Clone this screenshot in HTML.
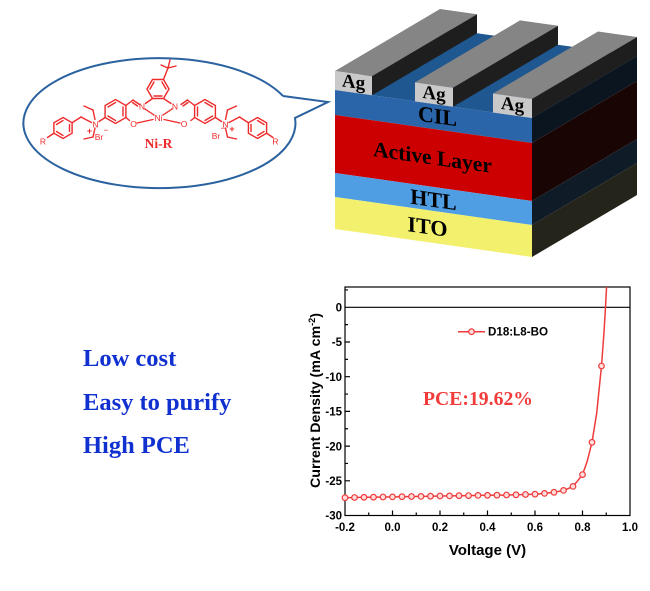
<!DOCTYPE html>
<html>
<head>
<meta charset="utf-8">
<style>
html,body{margin:0;padding:0;background:#fff;}
svg{display:block;}
</style>
</head>
<body>
<svg width="650" height="591" viewBox="0 0 650 591" xmlns="http://www.w3.org/2000/svg">
<rect width="650" height="591" fill="#fff"/>

<!-- ===== Device block ===== -->
<g>
  <polygon points="335,90 532,118 637,56 440,28" fill="#1f5790"/>
  <polygon points="335,90 532,118 532,143 335,115" fill="#2a65a9"/>
  <polygon points="335,115 532,143 532,201 335,173" fill="#cc0000"/>
  <polygon points="335,173 532,201 532,225 335,197" fill="#4f9de2"/>
  <polygon points="335,197 532,225 532,257 335,229" fill="#f2f06c"/>
  <polygon points="532,118 637,56 637,81 532,143" fill="#0b1520"/>
  <polygon points="532,143 637,81 637,139 532,201" fill="#1a0505"/>
  <polygon points="532,201 637,139 637,163 532,225" fill="#0f1b26"/>
  <polygon points="532,225 637,163 637,195 532,257" fill="#25241a"/>

  <polygon points="335,71 372,76.26 477,14.26 440,9" fill="#858585"/>
  <polygon points="372,76.26 477,14.26 477,33.26 372,95.26" fill="#1e1e1e"/>
  <polygon points="335,71 372,76.26 372,95.26 335,90" fill="#c9c9c9"/>

  <polygon points="415,82.37 453,87.77 558,25.77 520,20.37" fill="#858585"/>
  <polygon points="453,87.77 558,25.77 558,44.77 453,106.77" fill="#1e1e1e"/>
  <polygon points="415,82.37 453,87.77 453,106.77 415,101.37" fill="#c9c9c9"/>

  <polygon points="493,93.45 532,99 637,37 598,31.45" fill="#858585"/>
  <polygon points="532,99 637,37 637,56 532,118" fill="#1e1e1e"/>
  <polygon points="493,93.45 532,99 532,118 493,112.45" fill="#c9c9c9"/>

  <g font-family="'Liberation Serif', serif" font-weight="bold" fill="#000" text-anchor="middle" dominant-baseline="central">
    <text x="0" y="0" font-size="19" transform="translate(353.5 82.5) skewY(8.1)">Ag</text>
    <text x="0" y="0" font-size="19" transform="translate(434 94) skewY(8.1)">Ag</text>
    <text x="0" y="0" font-size="19" transform="translate(512.5 105) skewY(8.1)">Ag</text>
    <text x="0" y="0" font-size="22" transform="translate(437.5 116) skewY(8.1)">CIL</text>
    <text x="0" y="0" font-size="21.5" transform="translate(432.5 157.5) skewY(8.1)">Active Layer</text>
    <text x="0" y="0" font-size="22" transform="translate(433.5 199.5) skewY(8.1)">HTL</text>
    <text x="0" y="0" font-size="22" transform="translate(427.5 226.5) skewY(8.1)">ITO</text>
  </g>
</g>

<!-- ===== Speech bubble ===== -->
<path d="M 283 96 L 328 102 L 295 118 A 136 65 0 1 1 283 96" fill="#fff" stroke="#2a62a0" stroke-width="2" stroke-linejoin="miter"/>

<!-- ===== Molecule ===== -->
<g stroke="#ee2a2a" stroke-width="1.4" fill="none" stroke-linecap="round">
  <polygon points="169,89 163.5,98.5 152.5,98.5 147,89 152.5,79.5 163.5,79.5"/>
  <line x1="150" y1="89" x2="154" y2="82"/>
  <line x1="154" y1="96" x2="162" y2="96"/>
  <line x1="166" y1="89" x2="162" y2="82"/>
  <line x1="163.5" y1="79.5" x2="168" y2="68"/>
  <line x1="168" y1="68" x2="161" y2="65"/>
  <line x1="168" y1="68" x2="176" y2="66"/>
  <line x1="168" y1="68" x2="170" y2="60"/>
  <line x1="152.5" y1="98.5" x2="145.5" y2="103.5"/>
  <line x1="163.5" y1="98.5" x2="171" y2="103.5"/>
  <line x1="145" y1="109" x2="154" y2="115" stroke-dasharray="1.2 1.3"/>
  <line x1="172" y1="109" x2="163" y2="115" stroke-dasharray="1.2 1.3"/>
  <line x1="137" y1="123" x2="153" y2="119.5"/>
  <line x1="164" y1="119.5" x2="180" y2="123"/>

  <g id="half">
    <polygon points="115.5,99.5 125.9,105.5 125.9,117.5 115.5,123.5 105.1,117.5 105.1,105.5"/>
    <line x1="108" y1="107" x2="115.5" y2="102.5"/>
    <line x1="108" y1="116" x2="115.5" y2="120.5"/>
    <line x1="123" y1="107" x2="123" y2="116"/>
    <line x1="125.9" y1="105.5" x2="133" y2="100"/>
    <line x1="133" y1="100" x2="139.5" y2="104.5"/>
    <line x1="132.5" y1="102.5" x2="137.5" y2="106"/>
    <line x1="125.9" y1="117.5" x2="129.5" y2="120.5"/>
    <line x1="105.1" y1="117.5" x2="99" y2="121.5"/>
    <line x1="95" y1="119.5" x2="93" y2="110"/>
    <line x1="93" y1="110" x2="84" y2="106"/>
    <line x1="95" y1="128" x2="93" y2="137"/>
    <line x1="93" y1="137" x2="84" y2="139"/>
    <line x1="91.5" y1="122.5" x2="81" y2="117"/>
    <line x1="81" y1="117" x2="72.1" y2="122.75"/>
    <polygon points="63,117.5 72.1,122.75 72.1,133.25 63,138.5 53.9,133.25 53.9,122.75"/>
    <line x1="56.5" y1="124.5" x2="63" y2="120.5"/>
    <line x1="56.5" y1="131.5" x2="63" y2="135.5"/>
    <line x1="69.5" y1="124.5" x2="69.5" y2="131.5"/>
    <line x1="53.9" y1="133.25" x2="47.5" y2="137.5"/>
  </g>
  <use href="#half" transform="translate(320.5,0) scale(-1,1)"/>
</g>
<g font-family="'Liberation Sans', sans-serif" fill="#ee2a2a" font-size="8.5" text-anchor="middle">
  <text x="142" y="109.5">N</text>
  <text x="175" y="109.5">N</text>
  <text x="158.5" y="121">Ni</text>
  <text x="133.5" y="127">O</text>
  <text x="184" y="127">O</text>
  <text x="95.5" y="127.5">N</text>
  <text x="225.5" y="127.5">N</text>
  <text x="89.5" y="134" font-size="9" font-weight="bold">+</text>
  <text x="232" y="132" font-size="9" font-weight="bold">+</text>
  <text x="99" y="140">Br</text>
  <text x="106" y="133">−</text>
  <text x="216" y="139">Br</text>
  <text x="223" y="131">−</text>
  <text x="43" y="144.5">R</text>
  <text x="275.5" y="144.5">R</text>
  <text x="158.5" y="148" font-family="'Liberation Serif', serif" font-weight="bold" font-size="13.5">Ni-R</text>
</g>

<!-- ===== Blue bullet text ===== -->
<g font-family="'Liberation Serif', serif" font-weight="bold" font-size="24.5" fill="#1030d0">
  <text x="83" y="366">Low cost</text>
  <text x="83" y="410">Easy to purify</text>
  <text x="83" y="453">High PCE</text>
</g>

<!-- ===== Chart ===== -->
<defs>
  <clipPath id="plot"><rect x="345" y="287" width="285" height="228.5"/></clipPath>
</defs>
<g stroke="#000" stroke-width="1.2" fill="none">
  <rect x="345" y="287" width="285" height="228.5"/>
  <line x1="345" y1="307.3" x2="630" y2="307.3"/>
  <path d="M345 342H350 M345 376.7H350 M345 411.4H350 M345 446.1H350 M345 480.8H350"/>
  <path d="M345 289.95H348 M345 324.65H348 M345 359.35H348 M345 394.05H348 M345 428.75H348 M345 463.45H348 M345 498.15H348"/>
  <path d="M392.5 515.5V510.5 M440 515.5V510.5 M487.5 515.5V510.5 M535 515.5V510.5 M582.5 515.5V510.5"/>
  <path d="M368.75 515.5V512.5 M416.25 515.5V512.5 M463.75 515.5V512.5 M511.25 515.5V512.5 M558.75 515.5V512.5 M606.25 515.5V512.5"/>
</g>
<g font-family="'Liberation Sans', sans-serif" font-weight="bold" font-size="11.5" fill="#000" text-anchor="end">
  <text x="342" y="311.5">0</text>
  <text x="342" y="346.2">-5</text>
  <text x="342" y="380.9">-10</text>
  <text x="342" y="415.6">-15</text>
  <text x="342" y="450.3">-20</text>
  <text x="342" y="485">-25</text>
  <text x="342" y="519.7">-30</text>
</g>
<g font-family="'Liberation Sans', sans-serif" font-weight="bold" font-size="11.5" fill="#000" text-anchor="middle">
  <text x="345" y="531">-0.2</text>
  <text x="392.5" y="531">0.0</text>
  <text x="440" y="531">0.2</text>
  <text x="487.5" y="531">0.4</text>
  <text x="535" y="531">0.6</text>
  <text x="582.5" y="531">0.8</text>
  <text x="630" y="531">1.0</text>
</g>
<text x="487.5" y="555" font-family="'Liberation Sans', sans-serif" font-weight="bold" font-size="15" text-anchor="middle">Voltage (V)</text>
<text x="320" y="400.5" transform="rotate(-90 320 400.5)" font-family="'Liberation Sans', sans-serif" font-weight="bold" font-size="14" text-anchor="middle" textLength="175" lengthAdjust="spacingAndGlyphs">Current Density (mA cm<tspan dy="-5" font-size="9">-2</tspan><tspan dy="5">)</tspan></text>

<g clip-path="url(#plot)">
  <polyline fill="none" stroke="#ef3b3b" stroke-width="1.5" stroke-linejoin="round"
   points="345,497.7 354.5,497.5 364,497.3 373.5,497.2 383,497.0 392.5,496.9 402,496.7 411.5,496.5 421,496.4 430.5,496.2 440,496.0 449.5,495.9 459,495.7 468.5,495.6 478,495.4 487.5,495.3 497,495.2 506.5,495.0 516,494.8 525.5,494.5 535,494.2 544.5,493.4 554,492.3 563.5,490.4 568.25,488.6 573,486.4 577.75,480.7 582.5,474.6 587.25,461.1 592,442.3 596.75,412.7 601.5,366.0 603.9,333.5 605.1,314.2 606.25,292.9 607,278.8"/>
</g>
<g fill="#fdd" stroke="#ef3b3b" stroke-width="1.2">
  <circle cx="345" cy="497.7" r="2.8"/><circle cx="354.5" cy="497.5" r="2.8"/><circle cx="364" cy="497.3" r="2.8"/><circle cx="373.5" cy="497.2" r="2.8"/><circle cx="383" cy="497.0" r="2.8"/><circle cx="392.5" cy="496.9" r="2.8"/><circle cx="402" cy="496.7" r="2.8"/><circle cx="411.5" cy="496.5" r="2.8"/><circle cx="421" cy="496.4" r="2.8"/><circle cx="430.5" cy="496.2" r="2.8"/><circle cx="440" cy="496.0" r="2.8"/><circle cx="449.5" cy="495.9" r="2.8"/><circle cx="459" cy="495.7" r="2.8"/><circle cx="468.5" cy="495.6" r="2.8"/><circle cx="478" cy="495.4" r="2.8"/><circle cx="487.5" cy="495.3" r="2.8"/><circle cx="497" cy="495.2" r="2.8"/><circle cx="506.5" cy="495.0" r="2.8"/><circle cx="516" cy="494.8" r="2.8"/><circle cx="525.5" cy="494.5" r="2.8"/><circle cx="535" cy="494.2" r="2.8"/><circle cx="544.5" cy="493.4" r="2.8"/><circle cx="554" cy="492.3" r="2.8"/><circle cx="563.5" cy="490.4" r="2.8"/><circle cx="573" cy="486.4" r="2.8"/><circle cx="582.5" cy="474.6" r="2.8"/><circle cx="592" cy="442.3" r="2.8"/><circle cx="601.5" cy="366.0" r="2.8"/>
</g>

<line x1="458" y1="331.7" x2="485" y2="331.7" stroke="#ef3b3b" stroke-width="1.5"/>
<circle cx="471.5" cy="331.7" r="2.8" fill="#fdd" stroke="#ef3b3b" stroke-width="1.2"/>
<text x="488" y="335.6" font-family="'Liberation Sans', sans-serif" font-weight="bold" font-size="11.5" textLength="60" lengthAdjust="spacingAndGlyphs">D18:L8-BO</text>

<text x="423" y="405" font-family="'Liberation Serif', serif" font-weight="bold" font-size="20" fill="#f23b3b" textLength="110" lengthAdjust="spacingAndGlyphs">PCE:19.62%</text>
</svg>
</body>
</html>
